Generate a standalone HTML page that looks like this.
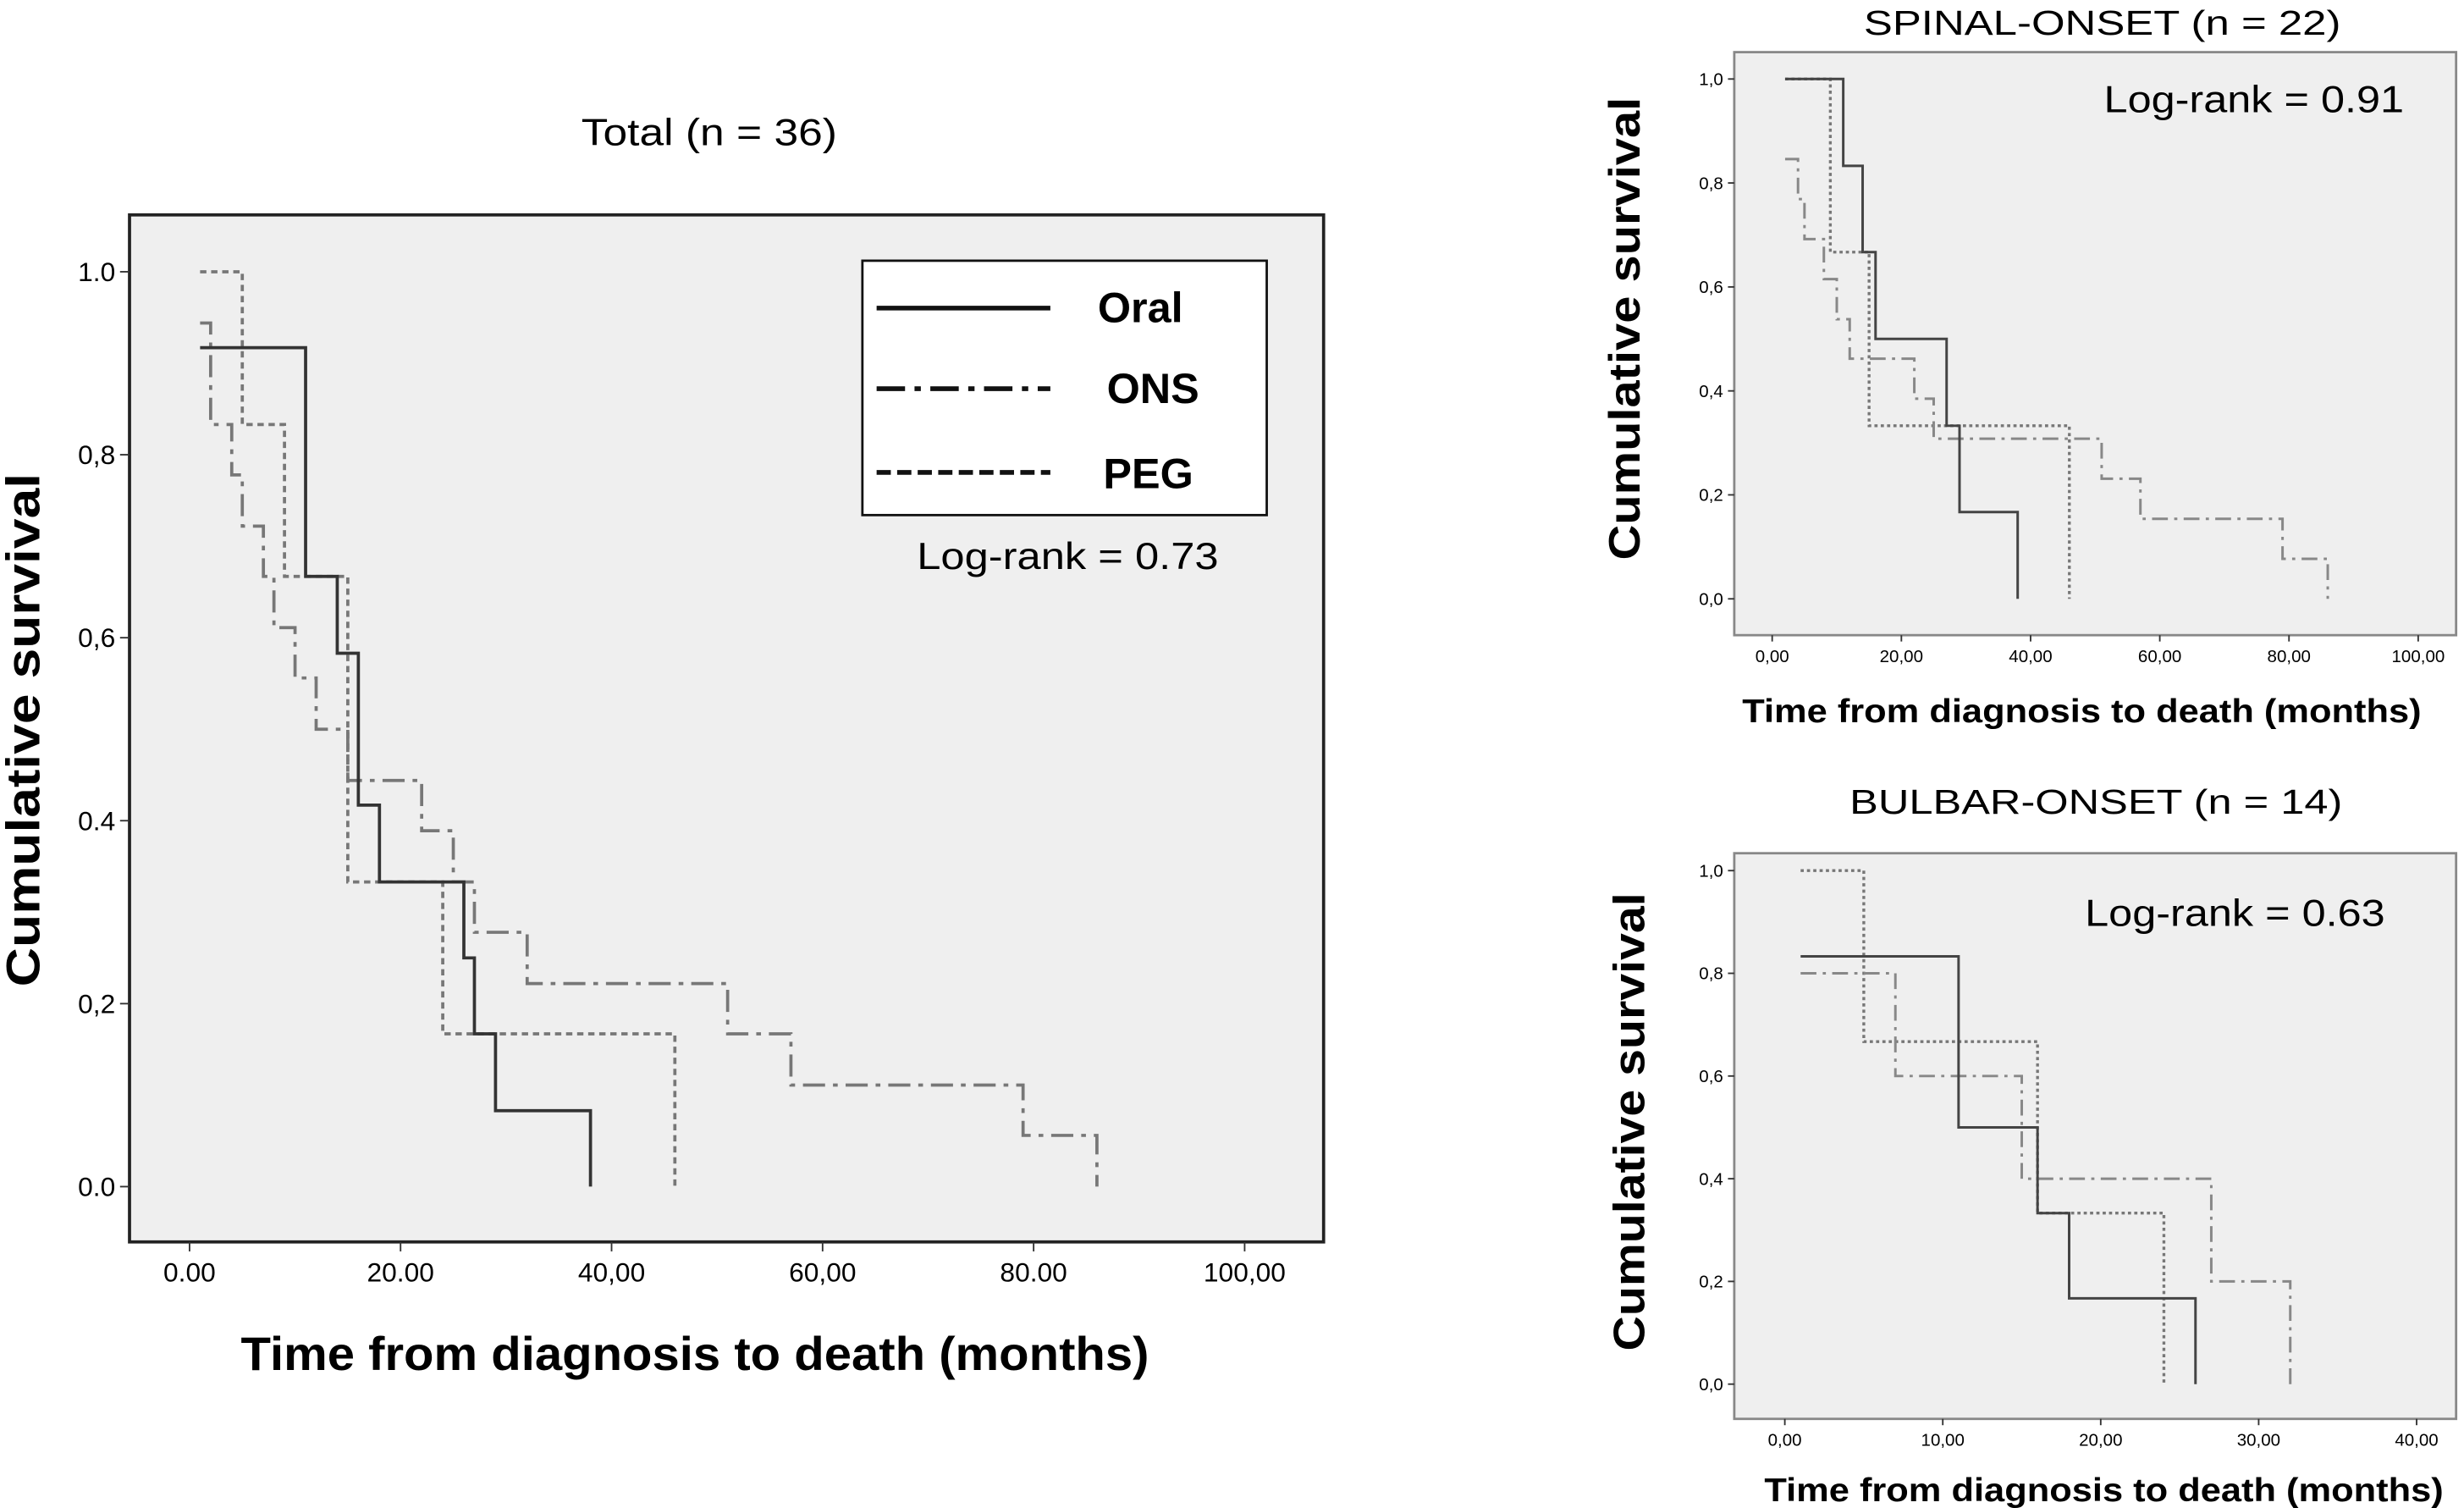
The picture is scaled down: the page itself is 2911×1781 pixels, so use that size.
<!DOCTYPE html>
<html><head><meta charset="utf-8"><style>
html,body{margin:0;padding:0;background:#fff}
svg{display:block}
text{font-family:"Liberation Sans",sans-serif}
</style></head><body>
<svg id="chart" width="2911" height="1781" viewBox="0 0 1560 954.4" preserveAspectRatio="none" xmlns="http://www.w3.org/2000/svg">
<rect width="1560" height="955" fill="#fff"/>
<g id="main">
<text x="449" y="92" font-size="24" text-anchor="middle" textLength="162" lengthAdjust="spacingAndGlyphs">Total (n = 36)</text>
<rect x="82" y="136" width="756" height="650" fill="#efefef" stroke="#222" stroke-width="2"/>
<text transform="translate(25,462) rotate(-90)" font-size="30" font-weight="bold" text-anchor="middle" textLength="325" lengthAdjust="spacingAndGlyphs">Cumulative survival</text>
<text x="440" y="867" font-size="30" font-weight="bold" text-anchor="middle" textLength="575" lengthAdjust="spacingAndGlyphs">Time from diagnosis to death (months)</text>
<rect x="546" y="165" width="256" height="161" fill="#fff" stroke="#111" stroke-width="1.5"/>
<line x1="555" y1="195" x2="665" y2="195" stroke="#111" stroke-width="3"/>
<text x="722" y="204" font-size="27" font-weight="bold" text-anchor="middle">Oral</text>
<line x1="555" y1="246" x2="665" y2="246" stroke="#111" stroke-width="3" stroke-dasharray="18,6,4,6"/>
<text x="730" y="255" font-size="27" font-weight="bold" text-anchor="middle">ONS</text>
<line x1="555" y1="299" x2="665" y2="299" stroke="#111" stroke-width="3" stroke-dasharray="9,4"/>
<text x="727" y="309" font-size="27" font-weight="bold" text-anchor="middle">PEG</text>
<text x="676" y="360" font-size="24" text-anchor="middle" textLength="191" lengthAdjust="spacingAndGlyphs">Log-rank = 0.73</text>
</g>
<g id="spinal">
<text x="1331" y="22" font-size="22" text-anchor="middle" textLength="302" lengthAdjust="spacingAndGlyphs">SPINAL-ONSET (n = 22)</text>
<rect x="1098" y="33" width="457" height="369" fill="#efefef" stroke="#888" stroke-width="1.5"/>
<text transform="translate(1038,208) rotate(-90)" font-size="28" font-weight="bold" text-anchor="middle" textLength="293" lengthAdjust="spacingAndGlyphs">Cumulative survival</text>
<text x="1318" y="457" font-size="21" font-weight="bold" text-anchor="middle" textLength="430" lengthAdjust="spacingAndGlyphs">Time from diagnosis to death (months)</text>
<text x="1427" y="71" font-size="24" text-anchor="middle" textLength="190" lengthAdjust="spacingAndGlyphs">Log-rank = 0.91</text>
</g>
<g id="bulbar">
<text x="1327" y="515" font-size="22" text-anchor="middle" textLength="312" lengthAdjust="spacingAndGlyphs">BULBAR-ONSET (n = 14)</text>
<rect x="1098" y="540" width="457" height="358" fill="#efefef" stroke="#888" stroke-width="1.5"/>
<text transform="translate(1041,710) rotate(-90)" font-size="28" font-weight="bold" text-anchor="middle" textLength="290" lengthAdjust="spacingAndGlyphs">Cumulative survival</text>
<text x="1332" y="950" font-size="21" font-weight="bold" text-anchor="middle" textLength="430" lengthAdjust="spacingAndGlyphs">Time from diagnosis to death (months)</text>
<text x="1415" y="586" font-size="24" text-anchor="middle" textLength="190" lengthAdjust="spacingAndGlyphs">Log-rank = 0.63</text>
</g>
</svg>
<script>
// Total panel data (time breakpoints, survival levels)
const totalOralT=[1,11,14,16,18,26,27,29,38];
const totalOralS=[0.917,0.667,0.583,0.417,0.333,0.25,0.167,0.083,0];
const totalOnsT=[1,2,4,5,7,8,10,12,15,22,25,27,32,51,57,79,86];
const totalOnsS=[0.944,0.833,0.778,0.722,0.667,0.611,0.556,0.5,0.444,0.389,0.333,0.278,0.222,0.167,0.111,0.056,0];
const totalPegT=[1,5,9,15,24,46];
const totalPegS=[1,0.833,0.667,0.333,0.167,0];
// Spinal panel data
const spinalOralT=[2,11,14,16,27,29,38];
const spinalOralS=[1,0.833,0.667,0.5,0.333,0.167,0];
const spinalOnsT=[2,4,5,8,10,12,22,25,51,57,79,86];
const spinalOnsS=[0.846,0.769,0.692,0.615,0.538,0.462,0.385,0.308,0.231,0.154,0.077,0];
const spinalPegT=[2,9,15,46];
const spinalPegS=[1,0.667,0.333,0];
// Bulbar panel data
const bulbarOralT=[1,11,16,18,26];
const bulbarOralS=[0.833,0.5,0.333,0.167,0];
const bulbarOnsT=[1,7,15,27,32];
const bulbarOnsS=[0.8,0.6,0.4,0.2,0];
const bulbarPegT=[1,5,16,24];
const bulbarPegS=[1,0.667,0.333,0];
// Tick labels
const totalXTicks=[0,20,40,60,80,100];
const totalXLabels=["0.00","20.00","40,00","60,00","80.00","100,00"];
const totalYTicks=[0,0.2,0.4,0.6,0.8,1.0];
const totalYLabels=["0.0","0,2","0.4","0,6","0,8","1.0"];
const spinalXTicks=[0,20,40,60,80,100];
const spinalXLabels=["0,00","20,00","40,00","60,00","80,00","100,00"];
const bulbarXTicks=[0,10,20,30,40];
const bulbarXLabels=["0,00","10,00","20,00","30,00","40,00"];
const smallYTicks=[0,0.2,0.4,0.6,0.8,1.0];
const smallYLabels=["0,0","0,2","0,4","0,6","0,8","1,0"];

const NS="http://www.w3.org/2000/svg";
function mk(tag,attrs,parent){const e=document.createElementNS(NS,tag);for(const k in attrs)e.setAttribute(k,attrs[k]);parent.appendChild(e);return e;}
function panel(gid,cfg){
  const g=document.getElementById(gid);
  const sx=v=>cfg.x0+(v-cfg.xmin)/(cfg.xmax-cfg.xmin)*(cfg.x1-cfg.x0);
  const sy=v=>cfg.y0+(1-v)*(cfg.y1-cfg.y0);
  cfg.xt.forEach((t,i)=>{
    const l=mk('line',{x1:sx(t),x2:sx(t),y1:cfg.boxB,y2:cfg.boxB+cfg.tick,stroke:'#333','stroke-width':1},g);
    
    
    const tx=mk('text',{x:sx(t),y:cfg.boxB+cfg.tick+cfg.fs+2,'font-size':cfg.fs,'text-anchor':'middle'},g);
    tx.textContent=cfg.xl[i];
    
    
  });
  cfg.yt.forEach((t,i)=>{
    const l=mk('line',{x1:cfg.boxL-cfg.tick,x2:cfg.boxL,y1:sy(t),y2:sy(t),stroke:'#333','stroke-width':1},g);
    
    
    const tx=mk('text',{x:cfg.boxL-cfg.tick-3,y:sy(t)+cfg.fs*0.35,'font-size':cfg.fs,'text-anchor':'end'},g);
    tx.textContent=cfg.yl[i];
    
    
  });
  cfg.series.forEach(s=>{
    let d='M'+sx(s.t[0])+','+sy(s.s[0]);
    for(let i=1;i<s.t.length;i++){d+=' H'+sx(s.t[i])+' V'+sy(s.s[i]);}
    const p=mk('path',{d:d,fill:'none',stroke:s.c,'stroke-width':s.w,'stroke-dasharray':s.da},g);
    
    
  });
}
panel('main',{x0:120,x1:788,xmin:0,xmax:100,y0:172,y1:751,boxL:82,boxB:786,tick:6,fs:17,
  xt:totalXTicks,xl:totalXLabels,yt:totalYTicks,yl:totalYLabels,
  series:[{t:totalPegT,s:totalPegS,c:'#777',w:2,da:'4,3',name:'total-peg-curve'},
          {t:totalOnsT,s:totalOnsS,c:'#777',w:2,da:'14,5,3,5',name:'total-ons-curve'},
          {t:totalOralT,s:totalOralS,c:'#333',w:2,da:'none',name:'total-oral-curve'}]});
panel('spinal',{x0:1122,x1:1531,xmin:0,xmax:100,y0:50,y1:379,boxL:1098,boxB:402,tick:4,fs:11,
  xt:spinalXTicks,xl:spinalXLabels,yt:smallYTicks,yl:smallYLabels,
  series:[{t:spinalPegT,s:spinalPegS,c:'#777',w:1.8,da:'2,2',name:'spinal-peg-curve'},
          {t:spinalOnsT,s:spinalOnsS,c:'#888',w:1.6,da:'10,4,2,4',name:'spinal-ons-curve'},
          {t:spinalOralT,s:spinalOralS,c:'#444',w:1.6,da:'none',name:'spinal-oral-curve'}]});
panel('bulbar',{x0:1130,x1:1530,xmin:0,xmax:40,y0:551,y1:876,boxL:1098,boxB:898,tick:4,fs:11,
  xt:bulbarXTicks,xl:bulbarXLabels,yt:smallYTicks,yl:smallYLabels,
  series:[{t:bulbarPegT,s:bulbarPegS,c:'#777',w:1.8,da:'2,2',name:'bulbar-peg-curve'},
          {t:bulbarOnsT,s:bulbarOnsS,c:'#888',w:1.6,da:'10,4,2,4',name:'bulbar-ons-curve'},
          {t:bulbarOralT,s:bulbarOralS,c:'#444',w:1.6,da:'none',name:'bulbar-oral-curve'}]});
</script>
</body></html>
